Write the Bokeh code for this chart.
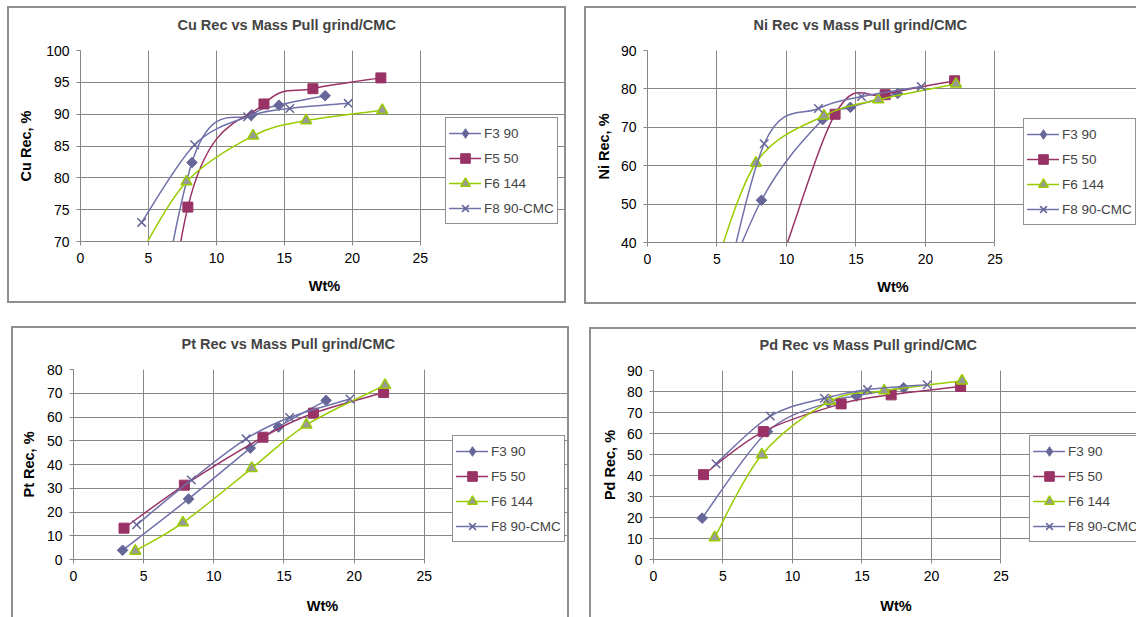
import numpy as np
from bokeh.plotting import figure
from bokeh.models import Range1d, FixedTicker, Legend, LegendItem, ColumnDataSource, Title
from bokeh.layouts import row, column
from bokeh.embed import file_html
from bokeh.resources import INLINE

# ---------------- data ----------------
series_names = ["F3 90", "F5 50", "F6 144", "F8 90-CMC"]
wt_F3 = [3.5, 8.2, 12.6, 14.6, 18.0]
wt_F5 = [3.6, 7.9, 13.5, 17.1, 22.1]
wt_F6 = [4.4, 7.8, 12.7, 16.6, 22.2]
wt_F8 = [4.5, 8.4, 12.3, 15.4, 19.7]

cu_F3 = [30.0, 82.4, 89.9, 91.4, 92.9]
cu_F5 = [5.0, 75.4, 91.6, 94.0, 95.7]
cu_F6 = [68.0, 79.4, 86.6, 89.0, 90.6]
cu_F8 = [73.0, 85.2, 89.6, 90.9, 91.7]

ni_F3 = [10.0, 51.0, 72.0, 75.2, 78.8]
ni_F5 = [8.0, 20.0, 73.4, 78.5, 82.1]
ni_F6 = [28.0, 60.7, 73.0, 77.2, 81.3]
ni_F8 = [10.0, 65.7, 74.9, 78.0, 80.6]

pt_F3 = [3.9, 25.5, 46.9, 55.8, 67.0]
pt_F5 = [13.2, 31.3, 51.5, 61.6, 70.3]
pt_F6 = [3.6, 15.5, 38.4, 56.7, 73.4]
pt_F8 = [14.6, 33.5, 50.8, 59.8, 67.6]

pd_F3 = [19.7, 60.9, 74.8, 77.9, 81.8]
pd_F5 = [40.4, 60.9, 74.1, 78.4, 82.4]
pd_F6 = [10.5, 49.9, 75.4, 80.4, 85.1]
pd_F8 = [45.6, 68.3, 76.8, 80.9, 83.2]

x_ticks = [0, 5, 10, 15, 20, 25]
cu_ticks = [70, 75, 80, 85, 90, 95, 100]
ni_ticks = [40, 50, 60, 70, 80, 90]
pt_ticks = [0, 10, 20, 30, 40, 50, 60, 70, 80]
pd_ticks = [0, 10, 20, 30, 40, 50, 60, 70, 80, 90]

titles = ["Cu Rec vs Mass Pull grind/CMC", "Ni Rec vs Mass Pull grind/CMC",
          "Pt Rec vs Mass Pull grind/CMC", "Pd Rec vs Mass Pull grind/CMC"]
ylabels = ["Cu Rec, %", "Ni Rec, %", "Pt Rec, %", "Pd Rec, %"]
x_label = "Wt%"

# ---------------- style ----------------
FONT = "Liberation Sans"
GRID = "#868686"
BORDER = "2px solid #8e8e8e"
styles_def = [
    dict(line="#7070aa", marker="square", angle=np.pi / 4, size=7.5, fill="#666699", mline="#666699", mw=1,
         leg_marker="diamond"),
    dict(line="#993366", marker="square", angle=0, size=10, fill="#993366", mline="#993366", mw=1,
         leg_marker=None),
    dict(line="#99cc00", marker="triangle", angle=0, size=11, fill="#999999", mline="#99cc00", mw=1.5,
         leg_marker=None),
    dict(line="#7070aa", marker="x", angle=0, size=12, fill="#666699", mline="#666699", mw=1.5,
         leg_marker=None),
]


def bezier_segments(xs, ys):
    px = [xs[0]] + list(xs) + [xs[-1]]
    py = [ys[0]] + list(ys) + [ys[-1]]
    d = dict(x0=[], y0=[], x1=[], y1=[], cx0=[], cy0=[], cx1=[], cy1=[])
    for i in range(len(xs) - 1):
        x0, y0 = px[i + 1], py[i + 1]
        x1, y1 = px[i + 2], py[i + 2]
        d["x0"].append(x0); d["y0"].append(y0)
        d["x1"].append(x1); d["y1"].append(y1)
        d["cx0"].append(x0 + (px[i + 2] - px[i]) / 6.0)
        d["cy0"].append(y0 + (py[i + 2] - py[i]) / 6.0)
        d["cx1"].append(x1 - (px[i + 3] - px[i + 1]) / 6.0)
        d["cy1"].append(y1 - (py[i + 3] - py[i + 1]) / 6.0)
    return d


def make_panel(title, ylabel, yr, yticks, ys_list, width, height, mb, data_w, leg_loc,
               title_off, ylab_so, xlab_so, borders, margin):
    l, t, b = mb
    # the frame runs to the right edge of the canvas so that the legend can sit in it;
    # the x range is widened so that 0..25 keeps the plot-area width data_w
    x_end = 25.0 * (width - l) / data_w
    p = figure(width=width, height=height, x_range=Range1d(0, x_end), y_range=Range1d(*yr),
               output_backend="svg", toolbar_location=None,
               min_border_left=l, min_border_right=0, min_border_top=t, min_border_bottom=b)
    p.margin = margin
    st_css = {k: BORDER for k in borders}
    st_css["box-sizing"] = "content-box"
    p.styles = st_css
    p.background_fill_color = "white"
    p.border_fill_color = "white"
    p.outline_line_color = None

    # spacer title (nearest the frame) then the real title above it
    p.add_layout(Title(text=" ", text_font_size="1px", standoff=14), "above")
    p.add_layout(Title(text=title, text_font=FONT, text_font_size="14.5px", text_font_style="bold",
                       align="left", offset=title_off, standoff=2), "above")

    for ax in (p.xaxis[0], p.yaxis[0]):
        ax.ticker = FixedTicker(ticks=x_ticks if ax is p.xaxis[0] else yticks)
        ax.axis_line_color = GRID
        ax.major_tick_line_color = GRID
        ax.major_tick_out = 4
        ax.major_tick_in = 0
        ax.minor_tick_line_color = None
        ax.major_label_text_font = FONT
        ax.major_label_text_font_size = "14px"
        ax.major_label_text_color = "black"
        ax.major_label_standoff = 7
        ax.axis_label_text_font = FONT
        ax.axis_label_text_font_size = "14.5px"
        ax.axis_label_text_font_style = "bold"
        ax.axis_label_text_color = "black"
    p.xaxis.axis_label = x_label
    p.yaxis.axis_label = ylabel
    p.xaxis.bounds = (x_ticks[0], x_ticks[-1])
    p.yaxis.axis_label_standoff = ylab_so
    p.xaxis.axis_label_standoff = xlab_so
    p.xgrid.grid_line_color = GRID
    p.ygrid.grid_line_color = GRID
    p.ygrid.bounds = (x_ticks[0], x_ticks[-1])

    wts = [wt_F3, wt_F5, wt_F6, wt_F8]
    items = []
    for name, xs, ys, st in zip(series_names, wts, ys_list, styles_def):
        seg = bezier_segments(xs, ys)
        br = p.bezier(x0="x0", y0="y0", x1="x1", y1="y1", cx0="cx0", cy0="cy0",
                      cx1="cx1", cy1="cy1", source=ColumnDataSource(seg),
                      line_color=st["line"], line_width=1.5, line_cap="round")
        lr = None
        if st["leg_marker"]:
            # small diamond hidden under the rotated square; it supplies the legend symbol
            lr = p.scatter(xs, ys, marker=st["leg_marker"], size=7,
                           fill_color=st["fill"], line_color=st["mline"], line_width=st["mw"])
        sr = p.scatter(xs, ys, marker=st["marker"], size=st["size"], angle=st["angle"],
                       fill_color=st["fill"], line_color=st["mline"], line_width=st["mw"])
        items.append(LegendItem(label=name, renderers=[br, lr if lr is not None else sr]))

    leg = Legend(items=items, location=leg_loc)
    leg.border_line_color = "#222222"
    leg.border_line_width = 1
    leg.background_fill_color = "white"
    leg.background_fill_alpha = 1
    leg.label_text_font = FONT
    leg.label_text_font_size = "13.5px"
    leg.glyph_width = 32
    leg.glyph_height = 24
    leg.label_height = 20
    leg.label_standoff = 3
    leg.spacing = 1
    leg.padding = 3
    leg.margin = 0
    p.add_layout(leg)
    return p


p1 = make_panel(titles[0], ylabels[0], (70, 100), cu_ticks, [cu_F3, cu_F5, cu_F6, cu_F8],
                555, 293, (71, 41, 63), 337, (365, 17), 97, 9, 12,
                ["border-left", "border-top", "border-right", "border-bottom"], (6, 0, 0, 7))
p2 = make_panel(titles[1], ylabels[1], (40, 90), ni_ticks, [ni_F3, ni_F5, ni_F6, ni_F8],
                550, 294, (61, 42, 64), 346, (376, 17), 106, 6, 12,
                ["border-left", "border-top", "border-bottom"], (6, 0, 0, 18))
p3 = make_panel(titles[2], ylabels[2], (0, 80), pt_ticks, [pt_F3, pt_F5, pt_F6, pt_F8],
                554, 289, (60, 41, 60), 348, (379, 17), 108, 7, 14,
                ["border-left", "border-top", "border-right"], (22, 0, 0, 11))
p4 = make_panel(titles[3], ylabels[3], (0, 90), pd_ticks, [pd_F3, pd_F5, pd_F6, pd_F8],
                545, 288, (62, 41, 59), 346, (376, 17), 106, 6, 14,
                ["border-left", "border-top"], (23, 0, 0, 20))

layout = column(row(p1, p2, spacing=0), row(p3, p4, spacing=0), spacing=0)
open("out.html", "w").write(file_html(layout, INLINE))
